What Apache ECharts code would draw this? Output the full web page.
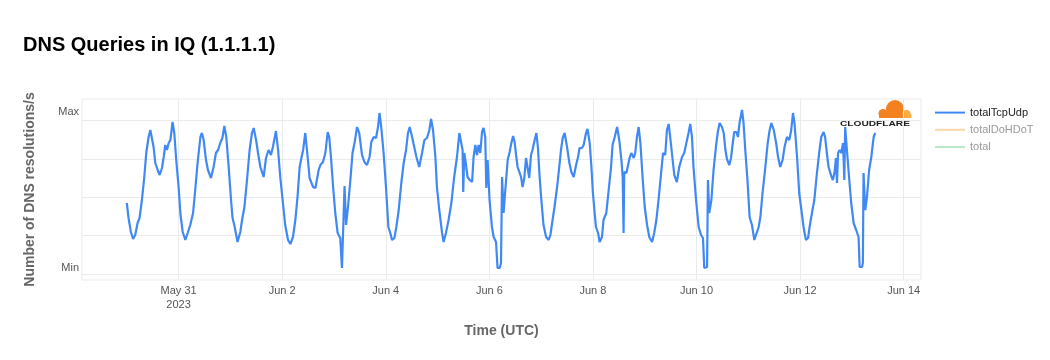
<!DOCTYPE html>
<html><head><meta charset="utf-8">
<script src="https://cdn.jsdelivr.net/npm/echarts@6/dist/echarts.min.js"></script>
<style>html,body{margin:0;padding:0;background:#fff}#c{width:1050px;height:360px}</style>
</head><body><div id="c"></div>
<script>
// ---- data (values in chart units) ----
const seriesStart = '2023-05-30T00:00:00Z';
const hoursFromStart = [
 0,0.8,1.9,2.9,3.9,5.0,5.9,7.0,8.1,9.0,10.1,10.9,11.7,12.4,13.2,14.3,15.2,16.3,17.1,17.8,18.6,19.4,20.2,21.2,22.0,22.9,24.0,24.8,25.9,27.1,28.2,29.4,30.7,31.7,32.8,34.1,34.8,35.6,36.7,37.6,39.0,40.2,41.3,42.3,43.3,44.3,45.2,46.1,47.2,48.3,49.0,50.0,51.3,52.6,53.4,54.5,55.7,56.9,58.0,58.8,59.9,60.8,61.9,63.4,64.5,65.7,66.8,67.7,69.1,70.1,71.1,72.2,73.4,74.7,75.8,77.0,78.1,79.1,80.1,80.9,81.7,82.7,83.8,84.7,86.3,
 87.4,88.9,89.7,90.9,92.0,93.1,93.8,94.6,95.6,96.6,97.7,98.9,99.7,100.5,100.9,101.6,102.5,103.6,104.6,105.6,106.7,107.7,109.0,110.1,111.3,112.5,113.3,114.4,115.5,116.4,117.1,117.9,119.0,120.1,121.2,122.1,122.9,124.0,124.9,126.0,127.2,128.3,129.4,130.3,131.1,132.2,133.2,134.2,135.5,136.8,137.9,139.1,140.2,141.0,141.9,143.0,143.7,144.8,146.1,146.8,147.9,149.1,150.4,151.7,153.0,154.1,155.0,155.6,155.9,156.4,157.2,157.9,158.9,160.0,160.7,161.5,162.3,163.0,163.8,164.6,165.3,166.1,166.6,167.2,168.1,169.2,170.0,171.1,171.8,172.8,173.4,173.9,174.6,
 175.4,176.5,177.4,178.2,179.0,179.7,180.5,181.1,181.9,182.7,183.4,184.2,185.0,185.7,186.5,187.3,188.0,189.0,189.8,190.5,191.3,192.1,193.1,194.3,195.5,196.3,197.3,198.2,199.4,200.4,201.2,202.0,202.9,204.0,205.1,206.0,207.1,208.2,209.1,209.8,210.9,211.7,212.8,213.5,214.5,215.3,216.0,216.8,217.4,218.4,219.1,220.2,220.9,222.2,223.3,224.4,225.1,226.1,227.2,228.2,229.2,229.8,230.2,230.5,231.5,232.3,233.0,233.8,234.9,235.6,236.4,237.2,238.0,239.0,240.0,241.1,242.1,243.4,244.4,245.4,246.4,247.6,248.5,249.5,250.3,251.1,251.8,252.6,253.7,254.9,256.0,257.3,258.3,259.3,260.3,261.1,261.9,262.6,
 263.8,265.0,266.1,267.0,267.6,268.9,269.3,269.9,270.9,271.9,273.1,273.8,274.7,275.8,276.6,277.4,278.1,279.2,280.0,280.8,281.5,282.5,283.2,284.0,285.1,285.8,286.6,287.7,288.6,289.7,290.8,291.7,292.8,293.6,294.6,295.9,297.0,297.9,298.7,299.8,300.9,301.8,302.8,303.9,304.8,305.9,307.0,307.9,308.7,309.4,310.6,311.6,312.6,313.6,314.7,315.7,316.4,317.5,318.6,319.8,320.9,321.8,322.9,323.6,324.4,325.2,326.3,327.2,328.0,328.6,329.1,329.6,330.3,331.1,331.9,332.5,332.9,333.7,334.8,335.7,336.8,338.0,339.1,339.6,340.7,341.1,341.4,342.2,343.0,344.0,345.0,346.1,346.8
];
const totalTcpUdp = [
 77,62,48,41,45,57,62,80,103,127,143,150,152,133,117,110,105,112,123,135,130,137,140,158,147,120,93,67,48,40,47,55,67,90,117,143,147,140,120,110,102,113,127,130,137,142,154,143,113,80,62,53,38,48,60,73,100,130,147,152,140,127,113,103,122,130,125,133,149,130,103,80,55,40,36,43,60,83,113,122,130,147,123,102,93,
 92,110,115,118,127,148,143,123,93,67,47,42,12,12,94,55,73,100,127,138,153,147,125,118,115,123,138,143,142,153,167,153,127,93,53,47,40,42,53,70,97,117,130,147,153,143,133,123,113,127,140,142,150,161,150,123,93,70,47,38,47,60,77,103,123,147,147,130,88,127,115,103,100,98,123,135,125,135,127,148,152,143,92,120,80,53,43,38,12,12,17,103,67,
 90,120,128,137,144,138,123,113,108,103,93,102,122,120,102,125,130,140,147,133,103,80,55,43,40,45,60,73,93,113,130,142,147,133,117,108,103,115,123,132,132,135,147,151,137,113,87,67,53,47,38,43,60,67,90,113,135,143,153,140,120,103,47,108,107,115,122,127,122,127,143,153,137,103,73,55,43,38,47,60,80,107,127,125,150,156,143,127,105,98,113,123,127,137,147,156,143,113,
 80,53,45,42,12,13,100,67,80,110,135,147,157,153,147,130,121,115,122,137,148,148,143,158,170,157,130,97,63,55,40,38,53,63,87,113,137,150,157,150,137,123,113,120,133,143,140,150,167,157,123,87,70,53,40,42,53,67,80,107,128,143,148,143,127,113,105,100,108,122,97,127,130,127,137,100,153,130,100,77,57,50,43,13,13,17,107,70,83,110,123,143,147
];
const totalDoHDoT = [];   // hidden in the reference (legend only)
const total = [];         // hidden in the reference (legend only)
const seriesNames = ['totalTcpUdp', 'totalDoHDoT', 'total'];
const xTickDates = ['2023-05-31','2023-06-02','2023-06-04','2023-06-06','2023-06-08','2023-06-10','2023-06-12','2023-06-14'];
const yGridValues = [6, 44.4, 82.8, 121.2, 159.6];
const yTickValues = [12, 168];
const yTickLabels = ['Min', 'Max'];
// -------------------------------------------------------------

const base = Date.parse(seriesStart);
const lineData = hoursFromStart.map((h, i) => [base + h * 3600e3, totalTcpUdp[i]]);
const xTicks = xTickDates.map(d => Date.parse(d + 'T00:00:00Z'));
const MONTHS = ['Jan','Feb','Mar','Apr','May','Jun','Jul','Aug','Sep','Oct','Nov','Dec'];
const FONT = '"Liberation Sans", Arial, Helvetica, sans-serif';
const GRID = '#ebebeb';

const chart = echarts.init(document.getElementById('c'), null, {renderer: 'canvas'});
chart.setOption({
  animation: false,
  backgroundColor: '#fff',
  textStyle: {fontFamily: FONT},
  title: {
    text: 'DNS Queries in IQ (1.1.1.1)',
    left: 23, top: 35, padding: 0,
    textStyle: {fontFamily: FONT, fontSize: 20, fontWeight: 'bold', color: '#000'}
  },
  grid: {left: 82, top: 99, width: 839, height: 181, show: true, borderColor: GRID, borderWidth: 1, containLabel: false},
  legend: {
    orient: 'vertical', left: 934, top: 107, padding: 0,
    itemWidth: 30, itemHeight: 14, itemGap: 6,
    itemStyle: {opacity: 0},
    textStyle: {fontFamily: FONT, fontSize: 11},
    data: [
      {name: seriesNames[0], textStyle: {color: '#222'}},
      {name: seriesNames[1], textStyle: {color: '#999'}},
      {name: seriesNames[2], textStyle: {color: '#999'}}
    ]
  },
  xAxis: {
    type: 'value',
    min: Date.UTC(2023, 4, 29, 3, 14),
    max: Date.UTC(2023, 5, 14, 8, 2),
    name: 'Time (UTC)', nameLocation: 'middle', nameGap: 44,
    nameTextStyle: {fontFamily: FONT, fontSize: 14, fontWeight: 'bold', color: '#666'},
    axisLine: {show: false},
    axisTick: {show: false, customValues: xTicks},
    splitLine: {show: true, lineStyle: {color: GRID, width: 1}},
    axisLabel: {
      customValues: xTicks, margin: 4, fontSize: 11, lineHeight: 14, color: '#555', fontFamily: FONT,
      formatter: v => {
        const d = new Date(v);
        let s = MONTHS[d.getUTCMonth()] + ' ' + d.getUTCDate();
        if (v === xTicks[0]) s += '\n' + d.getUTCFullYear();
        return s;
      }
    }
  },
  yAxis: {
    type: 'value', min: 0, max: 181,
    name: 'Number of DNS resolutions/s', nameLocation: 'middle', nameGap: 45, nameRotate: 90,
    nameTextStyle: {fontFamily: FONT, fontSize: 14, fontWeight: 'bold', color: '#666'},
    axisLine: {show: false},
    axisTick: {show: false, customValues: yGridValues},
    splitLine: {show: true, lineStyle: {color: GRID, width: 1}},
    axisLabel: {
      customValues: yTickValues, margin: 3, fontSize: 11, color: '#555', fontFamily: FONT,
      formatter: v => yTickLabels[yTickValues.indexOf(v)] || ''
    }
  },
  series: [
    {name: seriesNames[0], type: 'line', data: lineData, symbol: 'none', color: '#4089f5',
     lineStyle: {width: 2.2, color: '#4089f5'}, z: 3},
    {name: seriesNames[1], type: 'line', data: totalDoHDoT, symbol: 'none', color: '#fdd8a6',
     lineStyle: {width: 2, color: '#fdd8a6'}},
    {name: seriesNames[2], type: 'line', data: total, symbol: 'none', color: '#b8e8c8',
     lineStyle: {width: 2, color: '#b8e8c8'}}
  ],
  graphic: [
    {type: 'group', left: 840, top: 100, z: 10, children: [
      {type: 'circle', shape: {cx: 56, cy: 9, r: 9}, style: {fill: '#f48120'}},
      {type: 'circle', shape: {cx: 44, cy: 13.5, r: 4.5}, style: {fill: '#f48120'}},
      {type: 'rect', shape: {x: 40, y: 13, width: 25, height: 5}, style: {fill: '#f48120'}},
      {type: 'circle', shape: {cx: 67.5, cy: 14, r: 4}, style: {fill: '#fbad41'}},
      {type: 'rect', shape: {x: 65, y: 14, width: 7.5, height: 4}, style: {fill: '#fbad41'}},
      {type: 'text', x: 1, y: 20.5, scaleX: 1.45,
       style: {text: 'CLOUDFLARE', fontSize: 7, fontWeight: 'bold', fontFamily: 'Liberation Sans', fill: '#1a1a1a'}}
    ]}
  ]
});
</script></body></html>
